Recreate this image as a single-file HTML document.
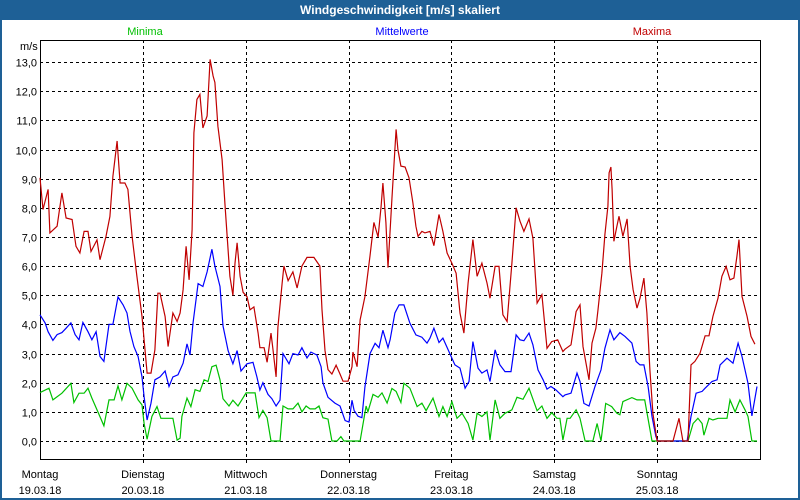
<!DOCTYPE html>
<html><head><meta charset="utf-8">
<style>
html,body{margin:0;padding:0;background:#fff;}
body{width:800px;height:500px;position:relative;overflow:hidden;font-family:"Liberation Sans","DejaVu Sans",sans-serif;}
#frame{position:absolute;left:0;top:0;width:796px;height:498px;border:2px solid #1e6096;border-top:none;}
#titlebar{position:absolute;left:0;top:0;width:800px;height:20px;background:#1e6096;color:#fff;font-weight:bold;font-size:12px;line-height:20px;text-align:center;}
svg{position:absolute;left:0;top:0;}
svg text{font-family:"Liberation Sans","DejaVu Sans",sans-serif;font-size:11px;}
</style></head>
<body>
<div id="frame"></div>
<div id="titlebar">Windgeschwindigkeit [m/s] skaliert</div>
<svg id="chart" width="800" height="500"></svg>
<script>
const dayNames=["Montag","Dienstag","Mittwoch","Donnerstag","Freitag","Samstag","Sonntag"];
const dayDates=["19.03.18","20.03.18","21.03.18","22.03.18","23.03.18","24.03.18","25.03.18"];
const yTicks=[0,1,2,3,4,5,6,7,8,9,10,11,12,13];
const seriesNames=["Minima","Mittelwerte","Maxima"];

const maxHours=[0,0.7,1.9,2.3,4.0,5.1,6.1,7.5,8.4,9.3,10.3,11.2,11.9,13.3,14.0,15.4,16.3,17.0,18.0,18.7,19.8,20.5,21.5,22.6,23.8,24.5,25.0,25.9,26.8,27.5,28.0,29.2,29.9,31.0,32.0,32.7,33.4,34.1,34.8,35.5,35.9,36.6,37.3,38.0,39.0,39.7,40.4,40.8,41.5,42.5,43.2,43.9,44.3,45.0,45.5,46.0,46.7,47.4,48.3,49.0,49.9,50.9,51.3,52.3,53.0,53.9,54.4,55.1,55.5,56.5,56.9,57.9,59.0,60.0,61.1,62.3,63.9,65.3,65.8,66.5,67.2,68.1,69.1,70.0,70.7,71.9,72.8,73.0,74.0,74.7,75.8,77.0,77.9,78.9,79.6,80.0,80.7,81.2,82.1,83.1,83.5,84.2,85.2,86.1,87.0,87.7,88.2,89.1,89.8,91.0,91.9,93.1,94.0,95.0,96.1,97.1,98.0,98.9,99.9,101.0,102.0,103.1,104.3,105.0,106.2,107.1,108.0,109.0,110.1,111.1,112.0,112.9,114.1,115.0,116.0,117.1,118.3,119.4,120.8,122.0,122.5,123.9,125.1,126.0,126.7,127.6,128.1,128.8,129.7,130.2,131.1,131.8,132.5,132.8,133.2,133.5,133.9,134.6,135.1,136.0,137.0,137.7,138.4,139.3,140.0,140.9,141.6,142.3,143.0,144.0,147.7,149.1,150.0,151.2,151.9,152.8,154.0,155.2,156.1,157.0,158.2,159.1,160.1,161.0,161.9,162.6,163.1,163.8,165.0,165.9,166.8];
const maxValues=[9.03,7.94,8.63,7.14,7.37,8.51,7.65,7.6,6.68,6.45,7.19,7.19,6.5,6.9,6.22,7.02,7.7,9.08,10.29,8.85,8.85,8.63,7.02,5.65,4.27,3.13,2.33,2.33,3.13,5.07,5.07,4.27,3.24,4.39,4.1,4.39,5.19,6.68,5.53,7.25,10.57,11.72,11.89,10.74,11.15,13.09,12.52,12.3,10.8,9.65,8.05,6.55,5.65,5.0,6.1,6.8,5.65,5.1,4.95,4.5,4.6,3.7,3.2,3.2,2.7,3.7,3.1,2.2,3.9,5.4,6.0,5.5,5.8,5.25,6.0,6.3,6.3,6.0,4.5,3.1,2.45,2.3,2.6,2.3,2.05,2.05,2.55,3.05,2.55,4.15,4.95,6.35,7.5,7.0,8.05,8.85,7.5,5.95,8.3,10.69,10.0,9.43,9.4,9.03,8.17,7.37,7.02,7.19,7.14,7.19,6.7,7.77,7.19,6.45,6.1,5.76,4.39,3.7,5.42,6.91,5.65,6.1,5.42,4.9,5.99,5.99,4.33,4.1,6.1,8.0,7.54,7.19,7.62,6.96,4.73,5.02,3.18,3.41,3.47,3.07,3.15,3.3,4.44,4.67,3.24,2.5,2.1,3.36,3.87,4.5,5.76,7.08,8.05,9.2,9.4,8.63,6.85,7.37,7.71,7.02,7.62,5.99,5.19,4.56,4.9,5.59,4.39,2.44,0.95,0,0,0.78,0,0,2.61,2.73,3.01,3.61,3.61,4.27,4.9,5.65,5.99,5.53,5.59,6.33,6.91,4.96,4.27,3.59,3.32];

const meanHours=[0,1.2,1.9,3.0,4.0,5.1,6.1,7.2,8.2,9.1,10.0,11.2,12.1,13.1,14.0,14.9,16.1,17.0,18.2,19.4,20.3,21.0,21.9,22.9,23.8,24.3,25.0,25.9,26.8,28.0,29.2,30.1,31.0,32.2,33.4,34.3,35.0,35.7,36.9,38.0,39.0,40.1,40.8,42.0,42.7,43.9,45.0,46.0,46.9,48.3,49.7,50.6,51.3,52.0,53.2,54.1,55.1,56.0,56.7,58.1,59.0,60.2,61.1,62.3,63.2,64.6,65.6,66.0,67.2,68.8,70.0,71.2,72.1,72.8,73.3,74.2,75.1,75.8,77.0,78.2,79.1,80.0,81.2,81.7,82.8,83.8,84.9,86.3,87.7,89.1,90.3,91.0,91.9,93.1,94.0,95.4,96.8,98.0,99.2,100.1,101.0,102.2,103.1,104.3,105.0,106.2,107.3,108.5,109.9,111.1,112.0,112.9,114.1,115.0,116.2,117.4,118.3,119.2,120.4,122.0,122.5,123.9,125.3,126.0,126.9,128.1,129.5,130.9,131.8,133.0,133.9,135.3,136.5,138.1,139.1,140.0,140.9,141.9,142.8,143.7,144.2,151.0,151.9,153.1,154.5,155.2,156.8,158.0,158.7,160.3,161.7,162.9,163.8,165.2,166.1,167.3];
const meanValues=[4.33,4.05,3.75,3.45,3.65,3.72,3.87,4.05,3.65,3.47,4.07,3.75,3.47,3.75,2.9,2.73,4.0,4.0,4.94,4.67,4.39,3.76,3.24,2.9,2.2,1.52,0.72,1.3,2.1,2.2,2.4,1.87,2.2,2.27,2.67,3.33,2.95,4.04,5.4,5.3,5.8,6.58,6.0,5.3,3.95,3.1,2.65,3.1,2.4,2.65,2.7,2.2,1.75,2.0,1.6,1.45,1.2,1.4,3.0,2.65,3.0,2.95,3.2,2.85,3.05,2.95,2.55,2.0,1.5,1.3,1.2,0.7,0.65,1.4,1.05,0.85,0.8,1.85,3.0,3.35,3.2,3.8,3.2,3.47,4.39,4.67,4.67,4.04,3.64,3.56,3.36,3.53,3.87,3.38,3.53,3.07,2.61,2.5,1.81,2.04,3.41,2.5,2.33,2.44,2.04,3.13,2.61,2.38,2.38,3.64,3.47,3.44,3.7,3.3,2.44,2.1,1.78,1.87,1.75,1.52,1.58,1.64,2.33,2.04,1.29,1.2,1.87,2.44,3.18,3.81,3.47,3.72,3.59,3.36,2.73,2.61,2.61,1.87,0.84,0.15,0,0,0.84,1.64,1.7,1.81,2.04,2.1,2.61,2.84,2.67,3.36,2.9,1.98,0.86,1.87];

const minHours=[0,2.1,3.0,5.1,7.2,7.9,9.1,10.3,11.2,12.1,13.5,14.9,16.1,17.3,18.2,19.1,20.3,21.5,22.9,23.8,24.3,25.0,26.1,27.3,28.2,31.0,32.0,32.7,33.1,34.3,35.2,36.2,37.3,38.3,39.2,40.1,41.1,42.0,42.7,44.1,45.0,46.2,48.1,50.2,51.1,52.0,53.0,53.9,56.0,56.7,57.9,59.0,60.2,61.1,62.1,63.0,64.2,65.1,66.0,67.2,68.1,69.3,70.2,70.9,74.7,76.1,76.5,77.7,78.9,79.8,81.0,82.1,83.1,84.2,84.9,86.3,88.0,89.1,90.1,91.7,93.1,94.0,95.0,96.1,97.3,98.5,99.9,101.0,102.0,103.1,104.3,105.0,106.2,107.3,108.5,110.1,111.3,112.7,114.1,116.0,117.1,118.3,119.4,120.6,121.3,122.0,123.0,123.7,125.1,126.0,127.2,129.0,130.0,130.9,132.0,133.4,134.6,135.3,136.0,138.1,139.3,141.1,142.8,151.2,152.4,153.5,154.5,154.9,156.1,157.0,158.2,160.3,161.0,162.2,163.3,164.5,165.2,166.1,167.3];
const minValues=[1.66,1.81,1.41,1.64,1.98,1.32,1.64,1.64,1.81,1.47,1.0,0.52,1.41,1.41,1.89,1.41,1.98,1.81,1.41,1.24,0.6,0.06,0.84,1.18,0.78,0.78,0.03,0.1,0.84,1.47,1.18,1.76,1.7,2.1,2.04,2.55,2.6,2.1,1.45,1.2,1.4,1.2,1.65,1.65,0.8,1.05,0.8,0,0,1.2,1.1,1.1,1.3,1.0,1.2,1.1,1.1,1.2,0.8,0.75,0,0,0.15,0,0,1.2,1.0,1.6,1.5,1.65,1.3,1.8,1.7,1.32,1.98,1.81,1.18,1.3,1.04,1.47,0.84,1.18,0.84,1.35,0.78,0.95,0.6,0.03,0.95,0.84,1.0,0.03,1.41,0.78,0.95,1.07,1.5,1.43,1.81,1.04,1.2,0.78,0.97,0.78,0.78,0.03,0.78,0.78,1.07,0.78,0,0,0.6,0,1.29,1.18,0.95,0.9,1.35,1.49,1.41,1.41,0,0,0.6,0.78,0.6,0.2,0.78,0.72,0.78,0.78,1.41,1.0,1.41,1.07,0.84,0,0];

const svg=document.getElementById('chart');
const NS='http://www.w3.org/2000/svg';
const PL=40,PR=760,PT=40,PB=459;
const Y0=441,YU=29.15;
const DAYW=(PR-PL)/7;
function xs(h){return PL+h/24*DAYW;}
function ys(v){return Y0-v*YU;}
function mk(tag,attrs,parent){const e=document.createElementNS(NS,tag);for(const k in attrs)e.setAttribute(k,attrs[k]);(parent||svg).appendChild(e);return e;}

// grid
const grid=mk('g',{});


yTicks.forEach(v=>{
  const y=Math.round(ys(v))+0.5;
  mk('line',{x1:PL,x2:PR,y1:y,y2:y,stroke:'#000','stroke-width':1,'stroke-dasharray':'3,3'},grid);
  const t=mk('text',{x:37,y:y+4,'text-anchor':'end',fill:'#000'});
  t.textContent=v.toFixed(1).replace('.',',');
  
  
});
for(let d=1;d<7;d++){
  const x=Math.round(PL+d*DAYW)+0.5;
  mk('line',{x1:x,x2:x,y1:PT,y2:PB+4,stroke:'#000','stroke-width':1,'stroke-dasharray':'3,3'},grid);
}
dayNames.forEach((n,d)=>{
  const x=PL+d*DAYW;
  const t=mk('text',{x:x,y:478,'text-anchor':'middle',fill:'#000'});
  t.textContent=n;
  
  
  const t2=mk('text',{x:x,y:494,'text-anchor':'middle',fill:'#000'});
  t2.textContent=dayDates[d];
  
  
});
const unit=mk('text',{x:20,y:50,fill:'#000'});
unit.textContent='m/s';



// axes box
const box=mk('rect',{x:PL+0.5,y:PT+0.5,width:PR-PL,height:PB-PT,fill:'none',stroke:'#000','stroke-width':1});



// legend
const legColors=['#00c000','#0000ff','#c00000'];
const legX=[145,402,652];
seriesNames.forEach((n,i)=>{
  const t=mk('text',{x:legX[i],y:35,'text-anchor':'middle',fill:legColors[i]});
  t.textContent=n;
  
  
});

function line(hours,vals,color,name){
  const pts=hours.map((h,i)=>xs(h).toFixed(1)+','+ys(vals[i]).toFixed(1)).join(' ');
  const p=mk('polyline',{points:pts,fill:'none',stroke:color,'stroke-width':1.2,'stroke-linejoin':'miter'});
  
  
}
line(minHours,minValues,'#00c000','minima-line');
line(meanHours,meanValues,'#0000ff','mean-line');
line(maxHours,maxValues,'#c00000','maxima-line');
</script>
</body></html>
